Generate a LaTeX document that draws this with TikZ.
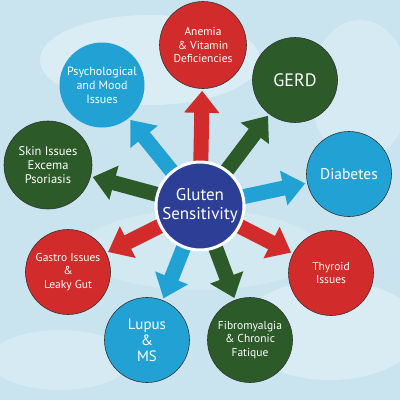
\documentclass[tikz,border=0pt]{standalone}
\usepackage{fontspec}
\setmainfont{PT Sans}
\usetikzlibrary{arrows.meta}
\definecolor{bgblue}{HTML}{C9E4EF}
\definecolor{cred}{HTML}{D22B2B}
\definecolor{cgreen}{HTML}{2C5A28}
\definecolor{cblue}{HTML}{22A2D4}
\definecolor{cnavy}{HTML}{2D3E97}
\pgfdeclarelayer{bg}
\pgfdeclarelayer{arrowlayer}
\pgfsetlayers{bg,arrowlayer,main}
\begin{document}
\begin{tikzpicture}[x=1pt,y=-1pt,
  bub/.style={circle, draw=black!80, line width=0.6pt, minimum size=85pt, inner sep=0pt,
    text=white, align=center, font=\fontsize{11.5}{13.5}\selectfont},
  arr/.style={line width=15pt, -{Triangle[length=22pt,width=34pt]}, shorten >=2pt}]
\useasboundingbox (0,0) rectangle (400,400);
\begin{pgfonlayer}{bg}
  \begin{scope}
  \clip (0,0) rectangle (400,400);
  \fill[bgblue] (0,0) rectangle (400,400);
  \fill[white, opacity=0.35] (150,60) ellipse (110 and 45);
  \fill[white, opacity=0.3] (330,330) ellipse (90 and 50);
  \fill[white, opacity=0.25] (60,360) ellipse (70 and 30);
  \fill[white, opacity=0.25] (360,90) ellipse (50 and 70);
  \fill[white, opacity=0.2] (200,250) ellipse (120 and 40);
  \end{scope}
\end{pgfonlayer}

\node[circle, fill=cnavy, draw=white, line width=3pt, minimum size=88pt, inner sep=0pt,
  text=white, align=center, font=\fontsize{17}{19}\selectfont] (c) at (200,206) {Gluten\\Sensitivity};

\node[bub, fill=cred, minimum size=87pt] (anemia) at (203,45) {Anemia\\ \& Vitamin\\ Deficiencies};
\node[bub, fill=cgreen, font=\fontsize{18}{20}\selectfont] (gerd) at (295,80) {GERD};
\node[bub, fill=cblue, font=\fontsize{15.5}{18}\selectfont] (diab) at (349,174) {Diabetes};
\node[bub, fill=cred] (thy) at (331,273) {Thyroid\\ Issues};
\node[bub, fill=cgreen] (fibro) at (250,340) {Fibromyalgia\\ \& Chronic\\ Fatique};
\node[bub, fill=cblue, font=\fontsize{15}{16}\selectfont] (lupus) at (147,340) {Lupus\\ \&\\ MS};
\node[bub, fill=cred] (gastro) at (68,272) {Gastro Issues\\ \&\\ Leaky Gut};
\node[bub, fill=cgreen, minimum size=88pt, font=\fontsize{12.5}{14}\selectfont] (skin) at (48,165) {Skin Issues\\ Excema\\ Psoriasis};
\node[bub, fill=cblue, draw=none, font=\fontsize{12}{14}\selectfont] (psy) at (102,85) {Psychological\\ and Mood\\ Issues};

\begin{pgfonlayer}{arrowlayer}
  \draw[arr, cred] (c.center) -- (anemia);
  \draw[arr, cgreen] (c.center) -- (gerd);
  \draw[arr, cblue] (c.center) -- (diab);
  \draw[arr, cred] (c.center) -- (thy);
  \draw[arr, cgreen] (c.center) -- (fibro);
  \draw[arr, cblue] (c.center) -- (lupus);
  \draw[arr, cred] (c.center) -- (gastro);
  \draw[arr, cgreen] (c.center) -- (skin);
  \draw[arr, cblue] (c.center) -- (psy);
\end{pgfonlayer}
\end{tikzpicture}
\end{document}
